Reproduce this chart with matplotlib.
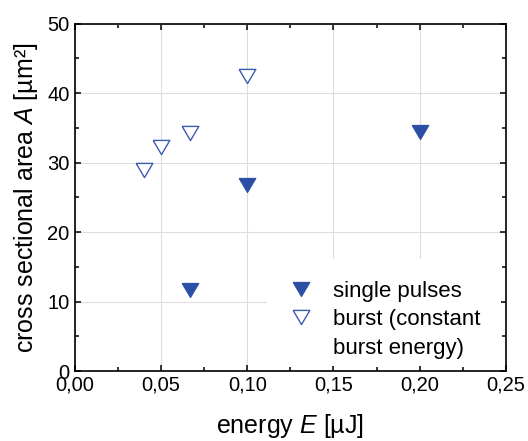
import matplotlib
matplotlib.use('Agg')
import matplotlib.pyplot as plt
import matplotlib as mpl
from matplotlib.patches import Rectangle
from matplotlib.lines import Line2D

plt.rcParams['font.family'] = ['Liberation Sans', 'DejaVu Sans']
plt.rcParams['mathtext.fontset'] = 'custom'
plt.rcParams['mathtext.rm'] = 'Liberation Sans'
plt.rcParams['mathtext.it'] = 'Liberation Sans:italic'

# data
single_energy = [0.0667, 0.1, 0.2]
single_area = [11.6, 26.7, 34.4]
burst_energy = [0.04, 0.05, 0.0667, 0.1]
burst_area = [28.9, 32.3, 34.3, 42.5]

x_ticks = [0.0, 0.05, 0.10, 0.15, 0.20, 0.25]
y_ticks = [0, 10, 20, 30, 40, 50]

blue = '#2a4fa5'
blue_light = '#3b5db0'
# wide, flat downward triangle (closed path)
tri = [(-1, 0.85), (1, 0.85), (0, -0.85), (-1, 0.85)]

fig = plt.figure(figsize=(5.28, 4.41), dpi=100)
ax = fig.add_axes([0.142, 0.1587, 0.816, 0.788])

ax.grid(True, color='#dddddd', linewidth=0.8)
ax.set_axisbelow(True)

# white area behind the legend hides the grid there
ax.add_patch(Rectangle((0.446, 0.013), 0.542, 0.31, transform=ax.transAxes,
                       facecolor='white', edgecolor='none', zorder=1))

ax.plot(single_energy, single_area, linestyle='none', marker=tri, markersize=12,
        color=blue, markeredgecolor=blue, markeredgewidth=0.8, zorder=3)
ax.plot(burst_energy, burst_area, linestyle='none', marker=tri, markersize=12,
        markerfacecolor='white', markeredgecolor=blue_light, markeredgewidth=1.0, zorder=3)

ax.set_xlim(0, 0.25)
ax.set_ylim(0, 50)
ax.set_xticks(x_ticks)
ax.set_yticks(y_ticks)
ax.xaxis.set_minor_locator(mpl.ticker.MultipleLocator(0.025))
ax.yaxis.set_minor_locator(mpl.ticker.MultipleLocator(5))
ax.xaxis.set_major_formatter(mpl.ticker.FuncFormatter(lambda v, p: f'{v:.2f}'.replace('.', ',')))

ax.tick_params(which='both', direction='in', top=True, right=True, width=1.1, labelsize=14.5)
ax.tick_params(axis='x', which='both', pad=3)
ax.tick_params(axis='y', which='both', pad=4)
ax.tick_params(which='major', length=4.5)
ax.tick_params(which='minor', length=3)
for s in ax.spines.values():
    s.set_linewidth(1.2)

ax.set_xlabel('energy $E$ [µJ]', fontsize=18, labelpad=13)
ax.set_ylabel('cross sectional area $A$ [µm²]', fontsize=18, labelpad=5)

handles = [
    Line2D([], [], linestyle='none', marker=tri, markersize=12, color=blue, markeredgewidth=0.8),
    Line2D([], [], linestyle='none', marker=tri, markersize=12, markerfacecolor='white',
           markeredgecolor=blue_light, markeredgewidth=1.0),
    Line2D([], [], linestyle='none'),
]
labels = ['single pulses', 'burst (constant', 'burst energy)']
ax.legend(handles, labels, loc='upper left', bbox_to_anchor=(0.499, 0.26), frameon=False,
          fontsize=16, borderaxespad=0, borderpad=0, handlelength=1.0, handletextpad=0.95,
          labelspacing=0.34)

fig.savefig('out.png', dpi=100)
